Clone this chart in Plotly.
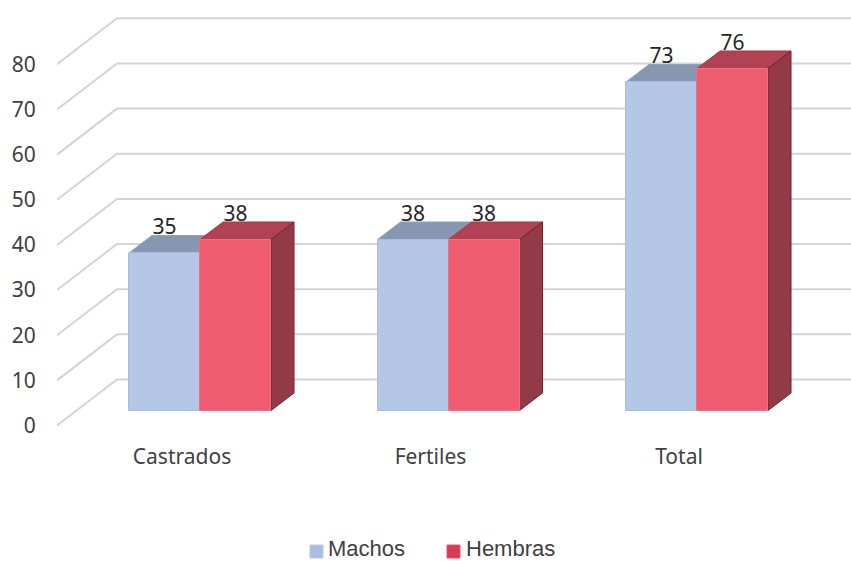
import plotly.graph_objects as go

categories = ["Castrados", "Fertiles", "Total"]
series_names = ["Machos", "Hembras"]
machos = [35, 38, 73]
hembras = [38, 38, 76]
y_ticks = [0, 10, 20, 30, 40, 50, 60, 70, 80]

FONT = "Noto Sans"
KEY_FONT = "Liberation Sans"
W, H = 851, 561
LEFT, BOTTOM_PX = 57, 437
UNIT_X = 248.5          # pixels between category groups
UNIT_Y = 4.5            # pixels per value unit on the bars
WALL_UNIT = 4.515       # pixels per value unit on the walls
ZERO_X = 200.0          # pixel of the first group centre
WALL_ZERO = 425.5       # pixel of value 0 on the front of the side wall
BAR_ZERO = 410.5        # pixel of value 0 on the front of the bars

BAR_W = 71 / UNIT_X
DEPTH_X = 23 / UNIT_X
DEPTH_PX = 17.5
WALL_DX = 60 / UNIT_X
WALL_DY = 46 / WALL_UNIT

x_range = [(LEFT - ZERO_X) / UNIT_X, (W - ZERO_X) / UNIT_X]
wall_range = [(WALL_ZERO - BOTTOM_PX) / WALL_UNIT, WALL_ZERO / WALL_UNIT]
bar_range = [(BAR_ZERO - BOTTOM_PX) / UNIT_Y, BAR_ZERO / UNIT_Y]


def on_wall(value, depth=0.0):
    """Express a bar value, optionally pushed back in depth, on the wall scale."""
    return (WALL_ZERO - (BAR_ZERO - value * UNIT_Y - depth)) / WALL_UNIT


fig = go.Figure()

# Side wall diagonals and back wall lines
gx, gy = [], []
for t in y_ticks:
    gx += [x_range[0], x_range[0] + WALL_DX, x_range[1], None]
    gy += [t, t + WALL_DY, t + WALL_DY, None]
fig.add_trace(go.Scatter(x=gx, y=gy, mode="lines", showlegend=False, hoverinfo="skip",
                         line=dict(color="#D4D4D4", width=2)))


def face(xs, ys, fill, edge):
    fig.add_trace(go.Scatter(x=xs, y=ys, mode="lines", fill="toself", fillcolor=fill,
                             line=dict(color=edge, width=1), showlegend=False,
                             hoverinfo="skip"))


# Top and side faces of each bar, drawn first so the fronts cover them
for i in range(len(categories)):
    m, h = machos[i], hembras[i]
    l = i - BAR_W
    face([l, l + DEPTH_X, i + DEPTH_X, i, l],
         [on_wall(m), on_wall(m, DEPTH_PX), on_wall(m, DEPTH_PX), on_wall(m), on_wall(m)],
         "#8797B1", "#8FA0BC")
    r = i + BAR_W
    face([i, i + DEPTH_X, r + DEPTH_X, r, i],
         [on_wall(h), on_wall(h, DEPTH_PX), on_wall(h, DEPTH_PX), on_wall(h), on_wall(h)],
         "#B04253", "#A33444")
    face([r, r + DEPTH_X, r + DEPTH_X, r, r],
         [on_wall(0), on_wall(0, DEPTH_PX), on_wall(h, DEPTH_PX), on_wall(h), on_wall(0)],
         "#933A47", "#7A1C2A")

# Front faces
fig.add_trace(go.Bar(name=series_names[0], x=[i - BAR_W / 2 for i in range(3)], y=machos,
                     width=BAR_W, yaxis="y2", hoverinfo="skip", showlegend=False,
                     marker=dict(color="#B4C7E7", line=dict(color="#A9BCDF", width=1))))
fig.add_trace(go.Bar(name=series_names[1], x=[i + BAR_W / 2 for i in range(3)], y=hembras,
                     width=BAR_W, yaxis="y2", hoverinfo="skip", showlegend=False,
                     marker=dict(color="#EF5C70", line=dict(color="#F0707F", width=1))))

# Value labels above each bar
label_lift = 24 / UNIT_Y
fig.add_trace(go.Scatter(
    x=[i - BAR_W / 2 for i in range(3)] + [i + BAR_W / 2 for i in range(3)],
    y=[v + label_lift for v in machos + hembras],
    text=[str(v) for v in machos + hembras],
    mode="text", textposition="middle center", yaxis="y2", showlegend=False,
    hoverinfo="skip", textfont=dict(family=FONT, size=21, color="#262626")))


# Key below the plot, placed in paper fractions of the plot area
def paper_x(px):
    return (px - LEFT) / (W - LEFT)


def paper_y(px):
    return (BOTTOM_PX - px) / BOTTOM_PX


key_shapes, key_notes = [], []
for name, colour, edge, sw_left, text_left in [
    (series_names[0], "#A9BDE0", "#B9C9E6", 310, 329),
    (series_names[1], "#D93C52", "#E0556A", 447, 467),
]:
    key_shapes.append(dict(type="rect", xref="paper", yref="paper",
                           x0=paper_x(sw_left), x1=paper_x(sw_left + 13),
                           y0=paper_y(558), y1=paper_y(545),
                           fillcolor=colour, line=dict(color=edge, width=1)))
    key_notes.append(dict(text=name, xref="paper", yref="paper",
                          x=paper_x(text_left), y=paper_y(548),
                          xanchor="left", yanchor="middle", showarrow=False,
                          xshift=-2, borderpad=0,
                          font=dict(family=KEY_FONT, size=22, color="#404040")))

fig.update_layout(
    width=W, height=H, autosize=False,
    margin=dict(l=LEFT, r=0, t=0, b=H - BOTTOM_PX, pad=0),
    paper_bgcolor="white", plot_bgcolor="white",
    barmode="overlay", bargap=0, showlegend=False,
    font=dict(family=FONT, size=21, color="#404040"),
    shapes=key_shapes, annotations=key_notes,
    xaxis=dict(range=x_range, showgrid=False, zeroline=False, showline=False,
               tickmode="array", tickvals=[i - 18 / UNIT_X for i in range(3)],
               ticktext=categories, ticks="outside", ticklen=1,
               tickcolor="rgba(0,0,0,0)", fixedrange=True),
    yaxis=dict(range=wall_range, showgrid=False, zeroline=False, showline=False,
               tickmode="array", tickvals=y_ticks, ticks="outside", ticklen=16,
               tickcolor="rgba(0,0,0,0)", fixedrange=True),
    yaxis2=dict(range=bar_range, overlaying="y", side="right", visible=False,
                fixedrange=True),
)

fig.write_html("out.html")
